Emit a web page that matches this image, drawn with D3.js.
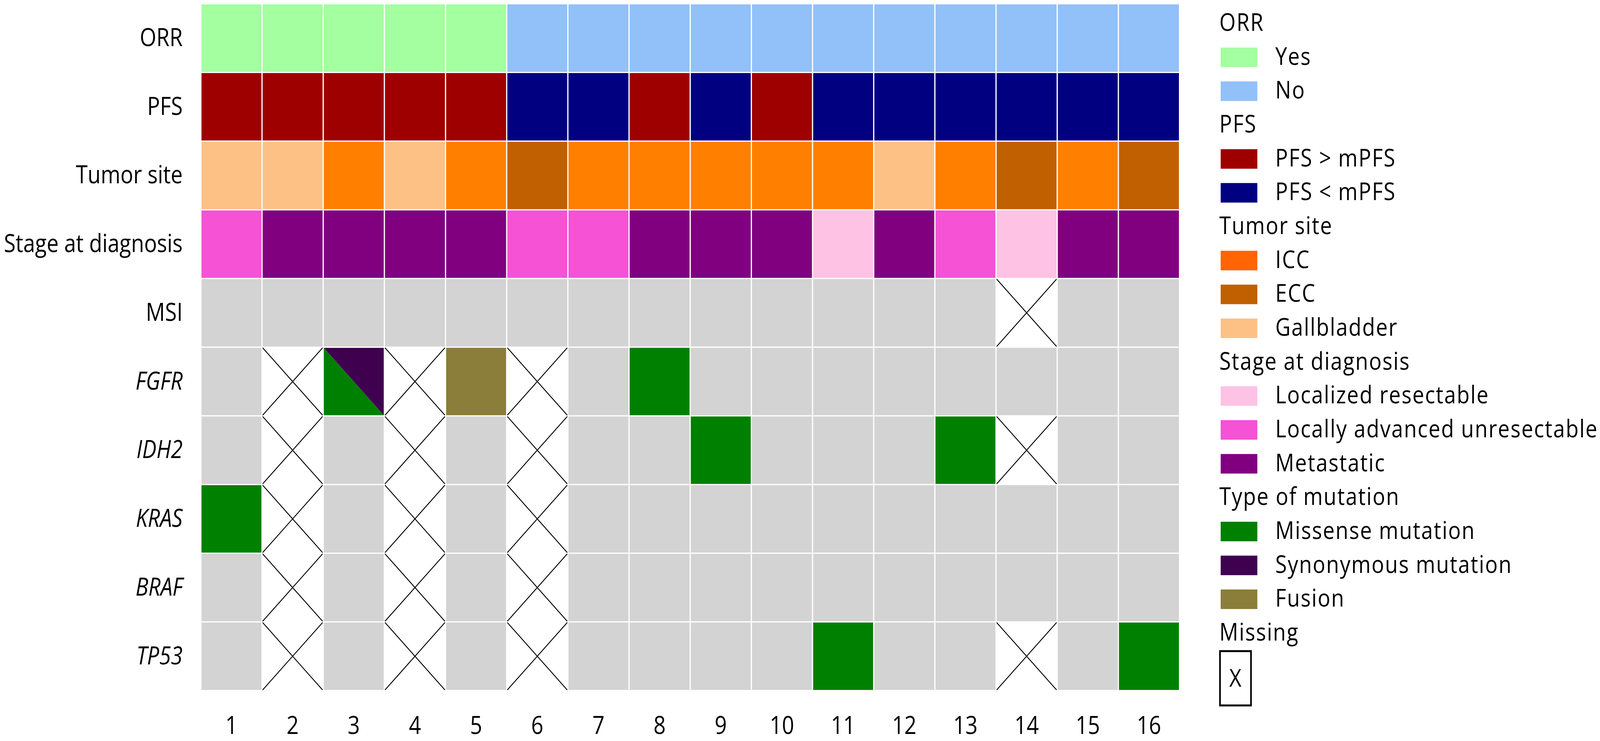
<!DOCTYPE html>
<html lang="en">
<head>
    <meta charset="UTF-8">
    <title>Patient mutation overview</title>
    <script src="https://cdnjs.cloudflare.com/ajax/libs/d3/7.8.5/d3.min.js"></script>
    <style>
        html, body { margin: 0; padding: 0; background: #fff; overflow: hidden; }
        svg { display: block; width: 100vw; height: 100vh; font-family: "Open Sans", sans-serif; }
    </style>
</head>
<body>
    <svg id="chart" viewBox="0 0 4800 1896" preserveAspectRatio="none"></svg>

    <script>
        // patients on the x axis
        const patients = ["1", "2", "3", "4", "5", "6", "7", "8", "9", "10", "11", "12", "13", "14", "15", "16"];
        const rowLabels = ["ORR", "PFS", "Tumor site", "Stage at diagnosis", "MSI", "FGFR", "IDH2", "KRAS", "BRAF", "TP53"];
        const geneRows = ["FGFR", "IDH2", "KRAS", "BRAF", "TP53"];

        // clinical rows
        const orr = ["Yes", "Yes", "Yes", "Yes", "Yes", "No", "No", "No", "No", "No", "No", "No", "No", "No", "No", "No"];
        const pfs = [">", ">", ">", ">", ">", "<", "<", ">", "<", ">", "<", "<", "<", "<", "<", "<"];
        const tumorSite = ["GB", "GB", "ICC", "GB", "ICC", "ECC", "ICC", "ICC", "ICC", "ICC", "ICC", "GB", "ICC", "ECC", "ICC", "ECC"];
        const stage = ["LA", "Met", "Met", "Met", "Met", "LA", "LA", "Met", "Met", "Met", "Loc", "Met", "LA", "Loc", "Met", "Met"];

        // molecular rows: "-" none, "X" missing, "Mis" missense, "Syn" synonymous, "Fus" fusion
        const msi  = ["-", "-", "-", "-", "-", "-", "-", "-", "-", "-", "-", "-", "-", "X", "-", "-"];
        const fgfr = ["-", "X", "Mis/Syn", "X", "Fus", "X", "-", "Mis", "-", "-", "-", "-", "-", "-", "-", "-"];
        const idh2 = ["-", "X", "-", "X", "-", "X", "-", "-", "Mis", "-", "-", "-", "Mis", "X", "-", "-"];
        const kras = ["Mis", "X", "-", "X", "-", "X", "-", "-", "-", "-", "-", "-", "-", "-", "-", "-"];
        const braf = ["-", "X", "-", "X", "-", "X", "-", "-", "-", "-", "-", "-", "-", "-", "-", "-"];
        const tp53 = ["-", "X", "-", "X", "-", "X", "-", "-", "-", "-", "Mis", "-", "-", "X", "-", "Mis"];

        // legend categories
        const orrKeys = ["Yes", "No"];
        const orrNames = ["Yes", "No"];
        const orrColors = ["#a3ff9f", "#92c0f8"];
        const pfsKeys = [">", "<"];
        const pfsNames = ["PFS > mPFS", "PFS < mPFS"];
        const pfsColors = ["#9e0000", "#000080"];
        const siteKeys = ["ICC", "ECC", "GB"];
        const siteNames = ["ICC", "ECC", "Gallbladder"];
        const siteColors = ["#ff8000", "#c06000", "#fdc185"];
        const siteLegendColors = ["#ff6405", "#c06000", "#fdc185"];
        const stageKeys = ["Loc", "LA", "Met"];
        const stageNames = ["Localized resectable", "Locally advanced unresectable", "Metastatic"];
        const stageColors = ["#fdc2e4", "#f552d6", "#800080"];
        const mutKeys = ["Mis", "Syn", "Fus"];
        const mutNames = ["Missense mutation", "Synonymous mutation", "Fusion"];
        const mutColors = ["#008000", "#400050", "#8b7d3a"];
        const noneColor = "#d3d3d3";

        const rowValues = [orr, pfs, tumorSite, stage, msi, fgfr, idh2, kras, braf, tp53];

        const colorOf = {};
        [[orrKeys, orrColors], [pfsKeys, pfsColors], [siteKeys, siteColors], [stageKeys, stageColors], [mutKeys, mutColors]]
            .forEach(([keys, cols]) => keys.forEach((k, i) => colorOf[k] = cols[i]));
        colorOf["-"] = noneColor;

        const cells = [];
        rowLabels.forEach((r, ri) => {
            rowValues[ri].forEach((v, ci) => cells.push({ row: r, col: patients[ci], value: v }));
        });

        const svg = d3.select("#chart");

        const x = d3.scaleBand()
            .domain(patients)
            .range([602.6, 3538.6])
            .paddingInner(0.02)
            .paddingOuter(0.01);

        const y = d3.scaleBand()
            .domain(rowLabels)
            .range([9.6, 1767])
            .paddingInner(0.018)
            .paddingOuter(0.009);

        const bw = x.bandwidth(), bh = y.bandwidth();

        const cellG = svg.append("g")
            .selectAll("g")
            .data(cells)
            .join("g")
            .attr("transform", d => `translate(${x(d.col)},${y(d.row)})`);

        // plain cells
        cellG.filter(d => d.value !== "X" && !d.value.includes("/"))
            .append("rect")
            .attr("width", bw)
            .attr("height", bh)
            .attr("fill", d => colorOf[d.value]);

        // split cells: first type lower-left, second upper-right
        const split = cellG.filter(d => d.value.includes("/"));
        split.append("path")
            .attr("d", `M0,0L${bw},${bh}L0,${bh}Z`)
            .attr("fill", d => colorOf[d.value.split("/")[0]]);
        split.append("path")
            .attr("d", `M0,0L${bw},0L${bw},${bh}Z`)
            .attr("fill", d => colorOf[d.value.split("/")[1]]);

        // missing cells
        cellG.filter(d => d.value === "X")
            .append("path")
            .attr("d", `M0,0L${bw},${bh}M${bw},0L0,${bh}`)
            .attr("fill", "none")
            .attr("stroke", "#000")
            .attr("stroke-width", 2.5);

        // axes
        const xAxis = svg.append("g")
            .attr("transform", "translate(0,1766)")
            .call(d3.axisBottom(x).tickSize(0).tickPadding(67));
        xAxis.select(".domain").remove();
        xAxis.selectAll("text")
            .attr("font-family", "'Open Sans', sans-serif")
            .attr("font-size", 64)
            .attr("fill", "#000");

        const yAxis = svg.append("g")
            .attr("transform", "translate(604,0)")
            .call(d3.axisLeft(y).tickSize(0).tickPadding(56));
        yAxis.select(".domain").remove();
        yAxis.selectAll("text")
            .attr("font-family", "'Open Sans', sans-serif")
            .attr("font-size", 64)
            .attr("fill", "#000")
            .attr("font-style", d => geneRows.includes(d) ? "italic" : "normal");

        // legend
        const legendRows = [];
        [["ORR", orrNames, orrColors], ["PFS", pfsNames, pfsColors], ["Tumor site", siteNames, siteLegendColors],
         ["Stage at diagnosis", stageNames, stageColors], ["Type of mutation", mutNames, mutColors]]
            .forEach(([title, names, cols]) => {
                legendRows.push({ title: title });
                names.forEach((n, i) => legendRows.push({ label: n, color: cols[i] }));
            });
        legendRows.push({ title: "Missing" });

        const ly = d3.scaleLinear().domain([0, legendRows.length - 1]).range([79, 1639]);

        const legend = svg.append("g")
            .attr("font-family", "'Open Sans', sans-serif")
            .attr("font-size", 63)
            .attr("letter-spacing", 2.5);

        const lr = legend.selectAll("g")
            .data(legendRows)
            .join("g")
            .attr("transform", (d, i) => `translate(0,${ly(i)})`);

        lr.filter(d => d.title)
            .append("text")
            .attr("x", 3658)
            .text(d => d.title);

        lr.filter(d => d.label)
            .append("rect")
            .attr("x", 3662)
            .attr("y", -44)
            .attr("width", 110)
            .attr("height", 50)
            .attr("fill", d => d.color);

        lr.filter(d => d.label)
            .append("text")
            .attr("x", 3826)
            .text(d => d.label);

        // missing key box
        legend.append("rect")
            .attr("x", 3660)
            .attr("y", 1666)
            .attr("width", 93)
            .attr("height", 139)
            .attr("fill", "none")
            .attr("stroke", "#000")
            .attr("stroke-width", 5);
        legend.append("text")
            .attr("x", 3706)
            .attr("y", 1757)
            .attr("text-anchor", "middle")
            .attr("letter-spacing", 0)
            .text("X");
    </script>
</body>
</html>
